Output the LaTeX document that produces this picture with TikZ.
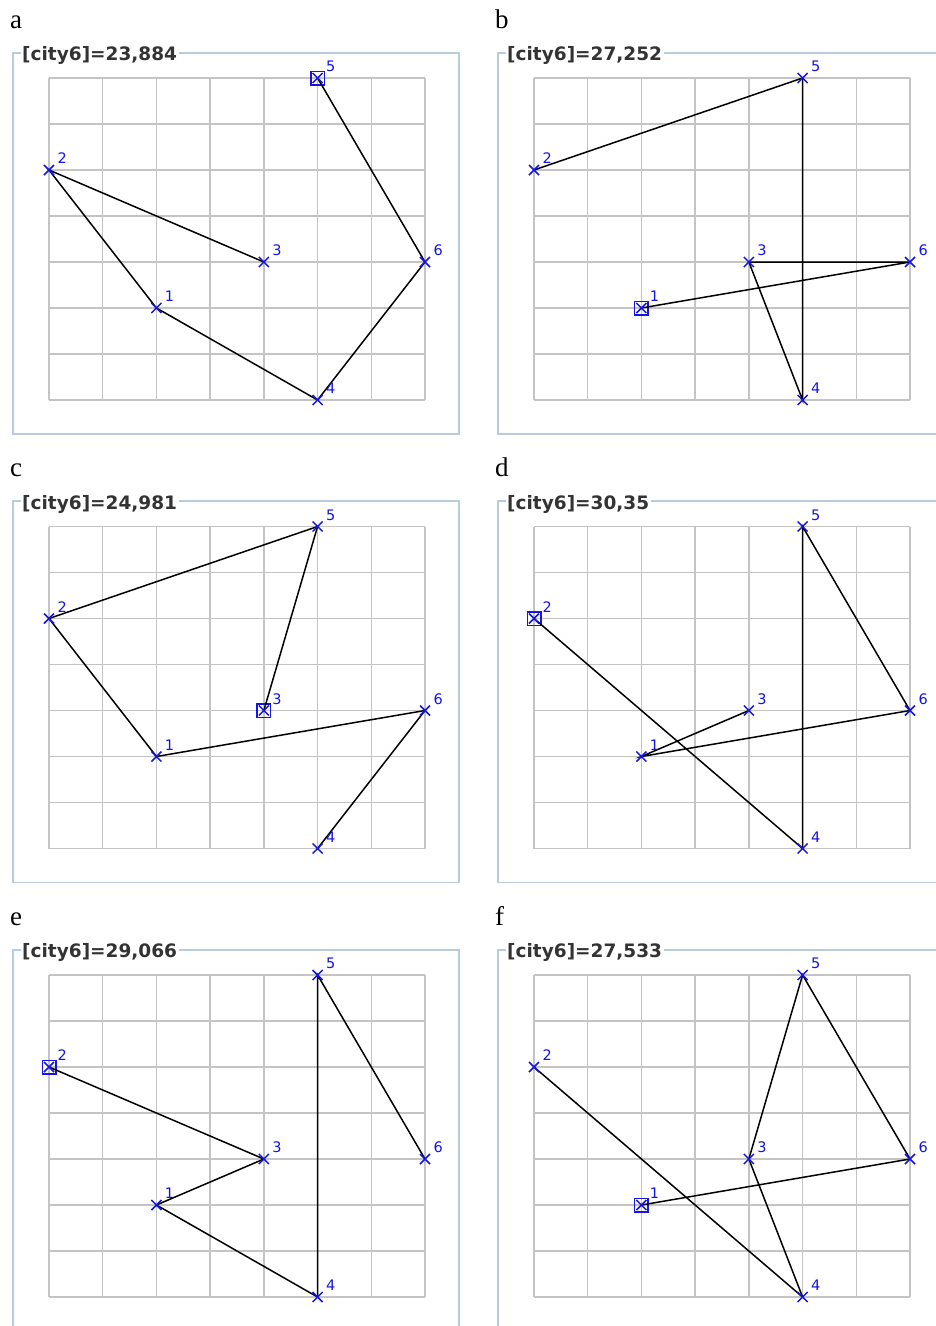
\documentclass[tikz,border=0pt]{standalone}
\usepackage{fontspec}
\setmainfont{Liberation Serif}
\newfontfamily\dejavu{DejaVu Sans}
\usetikzlibrary{shapes.misc}
\definecolor{framecol}{HTML}{B8CCE0}
\definecolor{gridcol}{HTML}{C4C4C4}
\definecolor{titlecol}{HTML}{333333}
\definecolor{citycol}{HTML}{1414E6}
\tikzset{
  framebox/.style={draw=framecol, line width=1.6pt},
  gridline/.style={draw=gridcol, line width=1.5pt},
  tourline/.style={draw=black, line width=1.5pt},
  crossmark/.style={cross out, draw=citycol, line width=1.5pt, minimum size=10pt, inner sep=0pt, outer sep=0pt},
  startbox/.style={rectangle, draw=citycol, line width=1.5pt, minimum size=13.5pt, inner sep=0pt},
  citylabel/.style={text=citycol, font=\dejavu\fontsize{14.5}{14.5}\selectfont, inner sep=0pt, anchor=base west},
  titletext/.style={text=titlecol, font=\dejavu\bfseries\fontsize{18.5}{18.5}\selectfont, fill=white, inner xsep=1.5pt, inner ysep=1pt, anchor=west},
  panelletter/.style={font=\fontsize{27}{27}\selectfont, inner sep=0pt, anchor=base west},
}
% grid coordinate -> picture
\newcommand{\gx}[1]{49+#1*53.714}
\newcommand{\gy}[1]{400-#1*46}
% #1 prefix, #2 xshift, #3 yshift, #4 title, #5 start city
\newcommand{\cityfield}[5]{%
  \begin{scope}[shift={(#2,#3)}]
    \node[panelletter] (L#1) at (10,28) {#1};
    \draw[framebox] (13,52.7) rectangle (459,434);
    \node[titletext] (T#1) at (20.5,55.5) {[city6]=#4};
    \foreach \i in {0,...,7} {
      \draw[gridline] ({\gx{\i}},78) -- ({\gx{\i}},400);
      \draw[gridline] (49,{\gy{\i}}) -- (425,{\gy{\i}});
    }
    \coordinate (#1p1) at ({\gx{2}},{\gy{2}});
    \coordinate (#1p2) at ({\gx{0}},{\gy{5}});
    \coordinate (#1p3) at ({\gx{4}},{\gy{3}});
    \coordinate (#1p4) at ({\gx{5}},{\gy{0}});
    \coordinate (#1p5) at ({\gx{5}},{\gy{7}});
    \coordinate (#1p6) at ({\gx{7}},{\gy{3}});
    \node[startbox] (#1s) at (#1p#5) {};
  \end{scope}}
\newcommand{\citymarks}[1]{%
  \foreach \k in {1,...,6} {
    \node[crossmark] (#1m\k) at (#1p\k) {};
    \node[citylabel] (#1l\k) at ([shift={(8.3,-6.5)}]#1p\k) {\k};
  }}
\begin{document}
\begin{tikzpicture}[x=1pt,y=-1pt]
\useasboundingbox (0,0) rectangle (936,1326);
\clip (0,0) rectangle (936,1326);
\fill[white] (0,0) rectangle (936,1326);
% a
\cityfield{a}{0}{0}{23,884}{5}
\draw[tourline] (ap5) -- (ap6) -- (ap4) -- (ap1) -- (ap2) -- (ap3);
\citymarks{a}
% b
\cityfield{b}{485}{0}{27,252}{1}
\draw[tourline] (bp1) -- (bp6) -- (bp3) -- (bp4) -- (bp5) -- (bp2);
\citymarks{b}
% c
\cityfield{c}{0}{448.5}{24,981}{3}
\draw[tourline] (cp3) -- (cp5) -- (cp2) -- (cp1) -- (cp6) -- (cp4);
\citymarks{c}
% d
\cityfield{d}{485}{448.5}{30,35}{2}
\draw[tourline] (dp2) -- (dp4) -- (dp5) -- (dp6) -- (dp1) -- (dp3);
\citymarks{d}
% e
\cityfield{e}{0}{897}{29,066}{2}
\draw[tourline] (ep2) -- (ep3) -- (ep1) -- (ep4) -- (ep5) -- (ep6);
\citymarks{e}
% f
\cityfield{f}{485}{897}{27,533}{1}
\draw[tourline] (fp1) -- (fp6) -- (fp5) -- (fp3) -- (fp4) -- (fp2);
\citymarks{f}
\end{tikzpicture}
\end{document}
